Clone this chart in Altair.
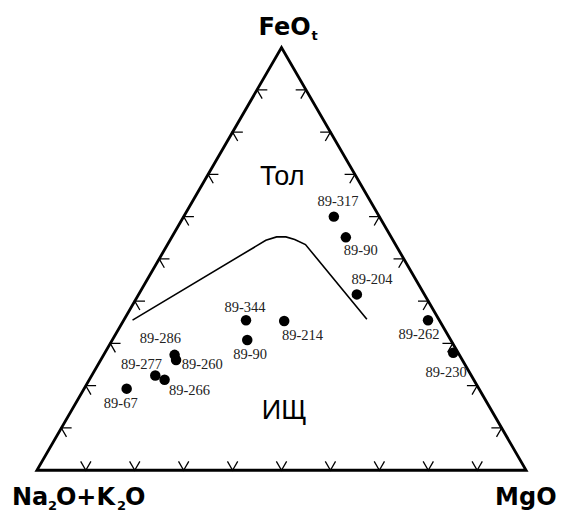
import altair as alt
import pandas as pd
import numpy as np

# ---------------- data (percent, Na2O+K2O = 100 - FeOt - MgO) ----------------
samples = ["89-317", "89-90", "89-204", "89-262", "89-230", "89-344", "89-214",
           "89-90", "89-286", "89-260", "89-277", "89-266", "89-67"]
feo = [60.0, 55.1, 41.6, 35.5, 27.8, 35.5, 35.3, 30.8, 27.3, 26.1, 22.4, 21.4, 19.3]
mgo = [30.7, 35.6, 44.6, 62.2, 71.2, 25.0, 32.9, 27.6, 14.5, 15.4, 13.0, 15.4, 8.7]

# label anchor compositions
label_feo = [63.5, 51.8, 45.0, 32.0, 23.1, 38.5, 31.8, 27.2, 31.1, 24.8, 24.8, 18.8, 15.7]
label_mgo = [29.8, 40.3, 46.0, 62.1, 72.1, 23.3, 38.4, 30.0, 9.7, 21.4, 9.0, 21.8, 9.3]

# tholeiitic / calc-alkaline boundary
bound_feo = [35.5, 54.4, 55.2, 55.2, 54.6, 53.4, 35.7]
bound_mgo = [1.8, 19.6, 21.4, 23.3, 25.4, 28.2, 49.6]

tick_values = [10, 20, 30, 40, 50, 60, 70, 80, 90]

fields = ["Тол", "ИЩ"]
field_feo = [67.5, 12.1]
field_mgo = [16.4, 44.5]

# ---------------- helpers ----------------
S3 = np.sqrt(3) / 2


def to_xy(f, m):
    f = np.asarray(f, dtype=float)
    m = np.asarray(m, dtype=float)
    return (m + f / 2) / 100.0, f * S3 / 100.0


xs = alt.Scale(domain=[-0.059063, 1.059063], nice=False, zero=False)
ys = alt.Scale(domain=[-0.083503, 0.947047], nice=False, zero=False)
X = alt.X("x:Q", scale=xs, axis=None)
Y = alt.Y("y:Q", scale=ys, axis=None)

# triangle frame
tf = [0, 0, 100, 0, 0]
tm = [0, 100, 0, 0, 100]
x, y = to_xy(tf, tm)
tri = pd.DataFrame({"x": x, "y": y, "k": range(len(tf))})

# tick chevrons
L = 2.1
rows = []
for t in tick_values:
    # left edge (MgO = 0)
    for j, (f, m) in enumerate([(t, L), (t, 0), (t - L, L)]):
        rows.append(("L%d" % t, j, f, m))
    # bottom edge (FeOt = 0)
    for j, (f, m) in enumerate([(L, t), (0, t), (L, t - L)]):
        rows.append(("B%d" % t, j, f, m))
    # right edge (Na2O+K2O = 0)
    for j, (f, m) in enumerate([(t, 100 - t - L), (t, 100 - t), (t - L, 100 - t)]):
        rows.append(("R%d" % t, j, f, m))
tk = pd.DataFrame(rows, columns=["id", "k", "f", "m"])
tk["x"], tk["y"] = to_xy(tk["f"], tk["m"])

x, y = to_xy(bound_feo, bound_mgo)
bnd = pd.DataFrame({"x": x, "y": y, "k": range(len(bound_feo))})

x, y = to_xy(feo, mgo)
pts = pd.DataFrame({"x": x, "y": y, "name": samples})

x, y = to_xy(label_feo, label_mgo)
lab = pd.DataFrame({"x": x, "y": y, "name": samples})

x, y = to_xy(field_feo, field_mgo)
fld = pd.DataFrame({"x": x, "y": y, "name": fields})

x, y = to_xy([0, 0, 100], [0, 100, 0])
vtx = pd.DataFrame({"x": x, "y": y, "v": ["A", "M", "F"]})

# ---------------- layers ----------------
frame = alt.Chart(tri).mark_line(color="black", strokeWidth=2.8, strokeJoin="miter").encode(
    x=X, y=Y, order="k:Q")
ticks = alt.Chart(tk).mark_line(color="black", strokeWidth=1.3).encode(
    x=X, y=Y, detail="id:N", order="k:Q")
boundary = alt.Chart(bnd).mark_line(color="black", strokeWidth=1.6).encode(
    x=X, y=Y, order="k:Q")
points = alt.Chart(pts).mark_circle(size=110, color="black", opacity=1).encode(x=X, y=Y)
labels = alt.Chart(lab).mark_text(font="Liberation Serif", fontSize=14.5, color="#222222",
                                  align="center", baseline="middle").encode(x=X, y=Y, text="name:N")
fieldtxt = alt.Chart(fld).mark_text(font="Liberation Sans", fontSize=27, color="black",
                                    align="center", baseline="alphabetic").encode(x=X, y=Y, text="name:N")


def piece(v, txt, dx, dy, size, bold=True):
    return alt.Chart(vtx).transform_filter(alt.datum.v == v).mark_text(
        text=txt, dx=dx, dy=dy, fontSize=size, font="DejaVu Sans",
        fontWeight="bold" if bold else "normal", color="black",
        align="left", baseline="alphabetic").encode(x=X, y=Y)


vlabels = [
    piece("F", "FeO", -23, -13, 24),
    piece("F", "t", 30, -8, 13),
    piece("A", "Na", -25, 35, 24),
    piece("A", "2", 11, 40, 13),
    piece("A", "O+K", 19, 35, 24),
    piece("A", "2", 80, 40, 13),
    piece("A", "O", 88, 35, 24),
    piece("M", "MgO", -31, 35, 24),
]

chart = alt.layer(frame, ticks, boundary, points, labels, fieldtxt, *vlabels).properties(
    width=549, height=506,
    autosize=alt.AutoSizeParams(type="fit", contains="padding"),
    padding=0,
).configure_view(strokeWidth=0)

chart.save("out.html", embed_options={"renderer": "svg", "actions": False})
